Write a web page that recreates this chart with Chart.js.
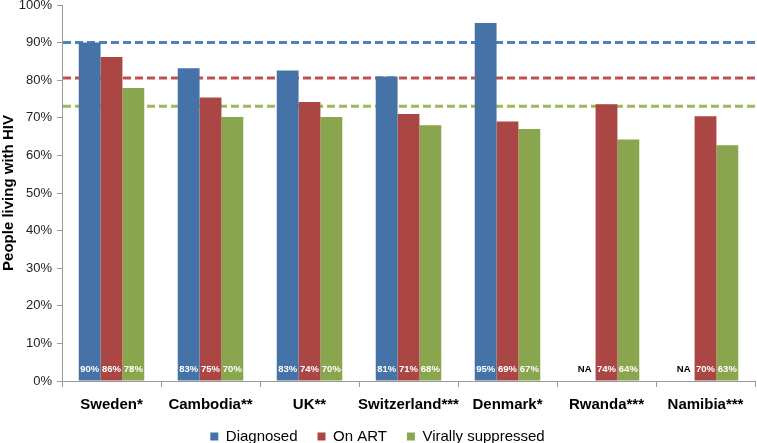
<!DOCTYPE html>
<html>
<head>
<meta charset="utf-8">
<script src="https://cdn.jsdelivr.net/npm/chart.js@4.4.1/dist/chart.umd.min.js"></script>
<style>
  html, body { margin: 0; padding: 0; background: #fff; }
  #wrap { width: 757px; height: 443px; }
</style>
</head>
<body>
<div id="wrap"><canvas id="hivChart"></canvas></div>
<script>
const countries = ['Sweden*', 'Cambodia**', 'UK**', 'Switzerland***', 'Denmark*', 'Rwanda***', 'Namibia***'];
const diagnosed = [90, 83.2, 82.6, 81, 95.2, null, null];
const onArt = [86.2, 75.4, 74.2, 71, 69, 73.6, 70.4];
const suppressed = [77.9, 70.2, 70.2, 68, 67, 64.2, 62.7];
const targets = [90, 80.6, 73.1];
const yTicks = [0, 10, 20, 30, 40, 50, 60, 70, 80, 90, 100];

const barColors = ['#4572A7', '#AA4643', '#89A54E'];
const lineColors = ['#4F81BD', '#C0504D', '#9BBB59'];

// dashed target lines, drawn behind the bars
const targetLines = {
  id: 'targetLines',
  beforeDatasetsDraw(chart) {
    const ctx = chart.ctx;
    const y = chart.scales.y;
    ctx.save();
    ctx.lineWidth = 3;
    ctx.setLineDash([8, 4]);
    targets.forEach((t, i) => {
      const py = y.getPixelForValue(t);
      ctx.strokeStyle = lineColors[i];
      ctx.beginPath();
      ctx.moveTo(chart.chartArea.left + 1, py);
      ctx.lineTo(chart.width, py);
      ctx.stroke();
    });
    ctx.restore();
  }
};

// value labels at the foot of each bar
const barLabels = {
  id: 'barLabels',
  afterDatasetsDraw(chart) {
    const ctx = chart.ctx;
    const bottom = chart.scales.y.getPixelForValue(0);
    ctx.save();
    ctx.font = 'bold 9.5px "Liberation Sans", Arial, sans-serif';
    ctx.textAlign = 'center';
    ctx.textBaseline = 'middle';
    chart.data.datasets.forEach((ds, di) => {
      chart.getDatasetMeta(di).data.forEach((bar, i) => {
        const v = ds.data[i];
        if (v == null) {
          ctx.fillStyle = '#000';
          ctx.fillText('NA', bar.x, bottom - 12);
        } else {
          ctx.fillStyle = '#fff';
          ctx.fillText(Math.round(v) + '%', bar.x, bottom - 12);
        }
      });
    });
    ctx.restore();
  }
};

new Chart(document.getElementById('hivChart'), {
  type: 'bar',
  data: {
    labels: countries,
    datasets: [
      { label: 'Diagnosed', data: diagnosed, backgroundColor: barColors[0] },
      { label: 'On ART', data: onArt, backgroundColor: barColors[1] },
      { label: 'Virally suppressed', data: suppressed, backgroundColor: barColors[2] }
    ]
  },
  options: {
    responsive: true,
    maintainAspectRatio: false,
    animation: false,
    layout: { padding: { top: 5, right: 2, left: 0, bottom: -11 } },
    datasets: { bar: { categoryPercentage: 0.662, barPercentage: 1 } },
    plugins: {
      legend: {
        position: 'bottom',
        labels: {
          boxWidth: 8,
          boxHeight: 8,
          padding: 20,
          color: '#000',
          font: { family: '"Liberation Sans", Arial, sans-serif', size: 15 }
        }
      },
      tooltip: { enabled: false }
    },
    scales: {
      x: {
        grid: { offset: true, drawOnChartArea: false, tickLength: 6, color: '#999' },
        border: { color: '#999' },
        ticks: {
          color: '#000',
          padding: 9,
          maxRotation: 0,
          minRotation: 0,
          autoSkip: false,
          font: { family: '"Liberation Sans", Arial, sans-serif', size: 15, weight: 'bold' }
        },
        afterFit(scale) { scale.height = 28; }
      },
      y: {
        min: 0,
        max: 100,
        afterBuildTicks(scale) { scale.ticks = yTicks.map(v => ({ value: v })); },
        grid: { drawOnChartArea: false, tickLength: 5, color: '#999' },
        border: { color: '#999' },
        ticks: {
          color: '#222',
          padding: 5,
          callback: v => v + '%',
          font: { family: '"Liberation Sans", Arial, sans-serif', size: 13 }
        },
        title: {
          display: true,
          text: 'People living with HIV',
          color: '#000',
          padding: 0,
          font: { family: '"Liberation Sans", Arial, sans-serif', size: 15, weight: 'bold' }
        },
        afterFit(scale) {
          scale.width = 62;
          scale.paddingTop = 0;
          scale.paddingBottom = 0;
        }
      }
    }
  },
  plugins: [targetLines, barLabels]
});
</script>
</body>
</html>
